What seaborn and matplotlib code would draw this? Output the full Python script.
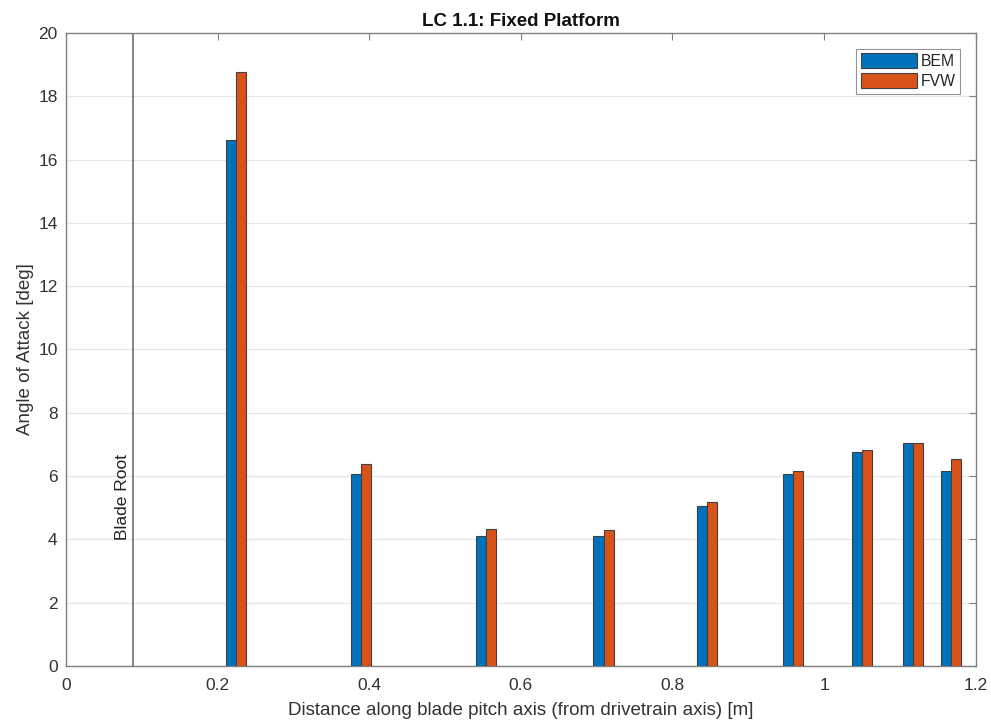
import numpy as np
import pandas as pd
import matplotlib
matplotlib.use("Agg")
import matplotlib.pyplot as plt
import seaborn as sns

# Radial stations along the blade pitch axis [m]
positions = [0.2248, 0.389, 0.554, 0.709, 0.845, 0.9587, 1.0497, 1.117, 1.168]
# Angle of attack [deg] per model
aoa_bem = [16.62, 6.06, 4.12, 4.12, 5.05, 6.08, 6.76, 7.04, 6.16]
aoa_fvw = [18.77, 6.37, 4.34, 4.31, 5.19, 6.17, 6.82, 7.03, 6.53]
models = ["BEM", "FVW"]
blade_root = 0.0885

x_ticks = [0, 0.2, 0.4, 0.6, 0.8, 1.0, 1.2]
x_ticklabels = ["0", "0.2", "0.4", "0.6", "0.8", "1", "1.2"]
y_ticks = list(range(0, 21, 2))

df = pd.DataFrame({
    "pos": positions * 2,
    "aoa": aoa_bem + aoa_fvw,
    "model": [models[0]] * len(positions) + [models[1]] * len(positions),
})

sns.set_style("white")
plt.rcParams["font.family"] = ["Liberation Sans", "DejaVu Sans"]

fig = plt.figure(figsize=(9.91, 7.21), dpi=100)
ax = fig.add_axes([0.0666, 0.0763, 0.918, 0.878])

# single bar width of ~0.0132 m in data units
min_gap = np.min(np.diff(sorted(positions)))
group_width = 2 * 0.0132 / min_gap

sns.barplot(
    data=df, x="pos", y="aoa", hue="model", native_scale=True,
    palette={"BEM": "#0072BD", "FVW": "#D95319"}, saturation=1,
    width=group_width, edgecolor="#404040", linewidth=0.8,
    errorbar=None, ax=ax, zorder=3,
)

ax.axvline(blade_root, color="#6e6e6e", linewidth=1.2, zorder=2)
ax.text(blade_root - 0.004, 3.98, "Blade Root", rotation=90,
        ha="right", va="bottom", fontsize=12.5, color="#222222")

ax.set_xlim(0, 1.2)
ax.set_ylim(0, 20)
ax.set_xticks(x_ticks)
ax.set_xticklabels(x_ticklabels)
ax.set_yticks(y_ticks)
ax.grid(axis="y", color="#e6e6e6", linewidth=0.9, zorder=0)
ax.set_axisbelow(True)

for s in ax.spines.values():
    s.set_color("#808080")
    s.set_linewidth(1.0)

ax.tick_params(axis="both", direction="in", length=5, width=0.8,
               color="#808080", labelsize=12.5, labelcolor="#333333",
               top=True, right=True)
ax.tick_params(axis="x", pad=9)
ax.tick_params(axis="y", pad=6)

ax.set_xlabel("Distance along blade pitch axis (from drivetrain axis) [m]",
              fontsize=13.5, color="#333333", labelpad=6)
ax.set_ylabel("Angle of Attack [deg]", fontsize=13.5, color="#333333", labelpad=3)
ax.set_title("LC 1.1: Fixed Platform", fontsize=13.5, fontweight="bold",
             color="#111111", pad=5)

leg = ax.legend(loc="upper right", fontsize=11.3, frameon=True, fancybox=False,
                edgecolor="#7a7a7a", handlelength=3.6, handleheight=1.1,
                handletextpad=0.2, borderpad=0.3, labelspacing=0.25,
                borderaxespad=1.0)
leg.get_frame().set_linewidth(0.8)
leg.set_title(None)

fig.savefig("out.png", dpi=100, facecolor="white")
